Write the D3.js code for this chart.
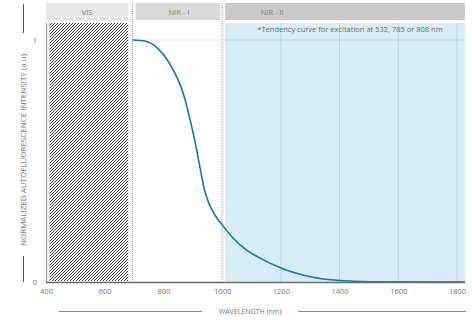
<!DOCTYPE html>
<html>
<head>
<meta charset="utf-8">
<script src="https://cdn.jsdelivr.net/npm/d3@7"></script>
<style>
  body { margin: 0; background: #fff; }
  svg text { font-family: "Open Sans", "Liberation Sans", sans-serif; }
</style>
</head>
<body>
<svg id="canvas"></svg>
<script>
// spectral bands (nm)
const bandNames = ["VIS", "NIR - I", "NIR - II"]
const bandStart = [400, 695, 1000]
const bandEnd = [680, 1000, 1827]

// hatched visible range
const hatchRange = [412, 680]

// autofluorescence tendency curve
const wavelengths = [695, 740, 785, 820, 850, 870, 890, 910, 925, 940, 955, 975, 1000, 1037, 1080, 1120, 1200, 1300, 1400, 1500, 1827]
const intensity = [1, 0.995, 0.96, 0.905, 0.835, 0.77, 0.675, 0.565, 0.47, 0.38, 0.325, 0.278, 0.236, 0.182, 0.135, 0.105, 0.058, 0.022, 0.006, 0.001, 0]

const xTicks = [400, 600, 800, 1000, 1200, 1400, 1600, 1800]
const yTicks = [0, 1]
const gridX = [1200, 1400, 1600, 1800]

const width = 472
const height = 320
const plotTop = 23
const plotBottom = 282

const canvas = d3.select("#canvas").attr("width", width).attr("height", height)

const xScale = d3.scaleLinear().domain([400, 1800]).range([46, 457])
const yScale = d3.scaleLinear().domain([0, 1]).range([plotBottom, 40])

const defs = canvas.append("defs")
const pat = defs.append("pattern")
  .attr("id", "hatch")
  .attr("patternUnits", "userSpaceOnUse")
  .attr("width", 3).attr("height", 3)
pat.append("rect").attr("width", 3).attr("height", 3).attr("fill", "#fff")
pat.append("path")
  .attr("d", "M-1,1 l2,-2 M0,3 l3,-3 M2,4 l2,-2")
  .attr("stroke", "#1a1a1a").attr("stroke-width", 0.85)

// header bands
const headerFill = ["#e8e8e8", "#dadada", "#cacaca"]
const headerX0 = (i) => i == 0 ? xScale(bandStart[i]) : xScale(bandStart[i]) + 3
canvas.selectAll(".band-head")
  .data(bandNames)
  .enter()
  .append("rect")
  .attr("x", (d, i) => headerX0(i))
  .attr("y", 3)
  .attr("width", (d, i) => xScale(bandEnd[i]) - headerX0(i) - (i == 1 ? 2 : 0))
  .attr("height", 17)
  .attr("fill", (d, i) => headerFill[i])

canvas.selectAll(".band-label")
  .data(bandNames)
  .enter()
  .append("text")
  .attr("x", (d, i) => i == 2 ? headerX0(i) + 47 : (headerX0(i) + xScale(bandEnd[i])) / 2)
  .attr("y", 15)
  .attr("text-anchor", "middle")
  .attr("font-size", 7.5)
  .attr("fill", "#7a7a7a")
  .text(d => d)

// NIR-II shaded region
canvas.append("rect")
  .attr("x", xScale(bandStart[2]) + 3)
  .attr("y", plotTop)
  .attr("width", xScale(bandEnd[2]) - xScale(bandStart[2]) - 3)
  .attr("height", plotBottom - plotTop)
  .attr("fill", "#d9edf6")

// grid lines
canvas.selectAll(".gridx")
  .data(gridX)
  .enter()
  .append("line")
  .attr("x1", d => xScale(d)).attr("x2", d => xScale(d))
  .attr("y1", plotTop).attr("y2", plotBottom)
  .attr("stroke", "#bcd6e0").attr("stroke-width", 1)

canvas.append("line")
  .attr("x1", xScale(bandStart[1])).attr("x2", xScale(bandEnd[2]))
  .attr("y1", yScale(1)).attr("y2", yScale(1))
  .attr("stroke", "#000").attr("stroke-opacity", 0.1).attr("stroke-width", 1.2)

// hatched VIS
canvas.append("rect")
  .attr("x", xScale(hatchRange[0]))
  .attr("y", plotTop)
  .attr("width", xScale(hatchRange[1]) - xScale(hatchRange[0]))
  .attr("height", plotBottom - plotTop - 1)
  .attr("fill", "url(#hatch)")

// dotted band separators
canvas.selectAll(".sep")
  .data([bandStart[1], bandStart[2]])
  .enter()
  .append("line")
  .attr("x1", d => xScale(d)).attr("x2", d => xScale(d))
  .attr("y1", 3).attr("y2", plotBottom)
  .attr("stroke", "#9a9a9a").attr("stroke-width", 1)
  .attr("stroke-dasharray", "1,1")

// note
canvas.append("text")
  .attr("x", 350).attr("y", 32)
  .attr("text-anchor", "middle")
  .attr("font-size", 7.5)
  .attr("fill", "#6a6a6a")
  .text("*Tendency curve for excitation at 532, 785 or 808 nm")

// curve
const line = d3.line()
  .x(d => xScale(d[0]))
  .y(d => yScale(d[1]))
  .curve(d3.curveMonotoneX)

canvas.append("path")
  .datum(wavelengths.map((w, i) => [w, intensity[i]]))
  .attr("d", line)
  .attr("fill", "none")
  .attr("stroke", "#1477a8")
  .attr("stroke-width", 1.6)

// axes
const xAxis = d3.axisBottom(xScale).tickValues(xTicks).tickSize(0).tickPadding(7)
  .tickFormat(d3.format("d"))
const gx = canvas.append("g")
  .attr("transform", "translate(0," + plotBottom + ")")
  .call(xAxis)
gx.select(".domain").remove()
gx.selectAll("text").attr("font-size", 7.5).attr("fill", "#777")
gx.attr("font-family", null)

const yAxis = d3.axisLeft(yScale).tickValues(yTicks).tickSize(0).tickPadding(9)
  .tickFormat(d3.format("d"))
const gy = canvas.append("g")
  .attr("transform", "translate(46,0)")
  .call(yAxis)
gy.select(".domain").remove()
gy.selectAll("text").attr("font-size", 7.5).attr("fill", "#777")
gy.attr("font-family", null)

canvas.append("line")
  .attr("x1", 46.5).attr("x2", 46.5)
  .attr("y1", plotTop).attr("y2", plotBottom)
  .attr("stroke", "#a0a0a0").attr("stroke-width", 1.5)

canvas.append("line")
  .attr("x1", 46).attr("x2", xScale(bandEnd[2]))
  .attr("y1", plotBottom + 0.5).attr("y2", plotBottom + 0.5)
  .attr("stroke", "#6e6e6e").attr("stroke-width", 1.5)

// axis titles with side rules
canvas.append("text")
  .attr("transform", "translate(26,150) rotate(-90)")
  .attr("text-anchor", "middle")
  .attr("font-size", 7)
  .attr("fill", "#777")
  .attr("textLength", 192)
  .attr("lengthAdjust", "spacingAndGlyphs")
  .text("NORMALIZED AUTOFLUORESCENCE INTENSITY (a.u)")

canvas.append("line").attr("x1", 23.5).attr("x2", 23.5).attr("y1", 4).attr("y2", 33)
  .attr("stroke", "#555").attr("stroke-width", 1)
canvas.append("line").attr("x1", 23.5).attr("x2", 23.5).attr("y1", 256).attr("y2", 282)
  .attr("stroke", "#555").attr("stroke-width", 1)

canvas.append("text")
  .attr("x", 250).attr("y", 314)
  .attr("text-anchor", "middle")
  .attr("font-size", 7)
  .attr("fill", "#777")
  .text("WAVELENGTH (nm)")

canvas.append("line").attr("x1", 59).attr("x2", 202).attr("y1", 311.5).attr("y2", 311.5)
  .attr("stroke", "#888").attr("stroke-width", 1)
canvas.append("line").attr("x1", 298).attr("x2", 466).attr("y1", 311.5).attr("y2", 311.5)
  .attr("stroke", "#888").attr("stroke-width", 1)
</script>
</body>
</html>
